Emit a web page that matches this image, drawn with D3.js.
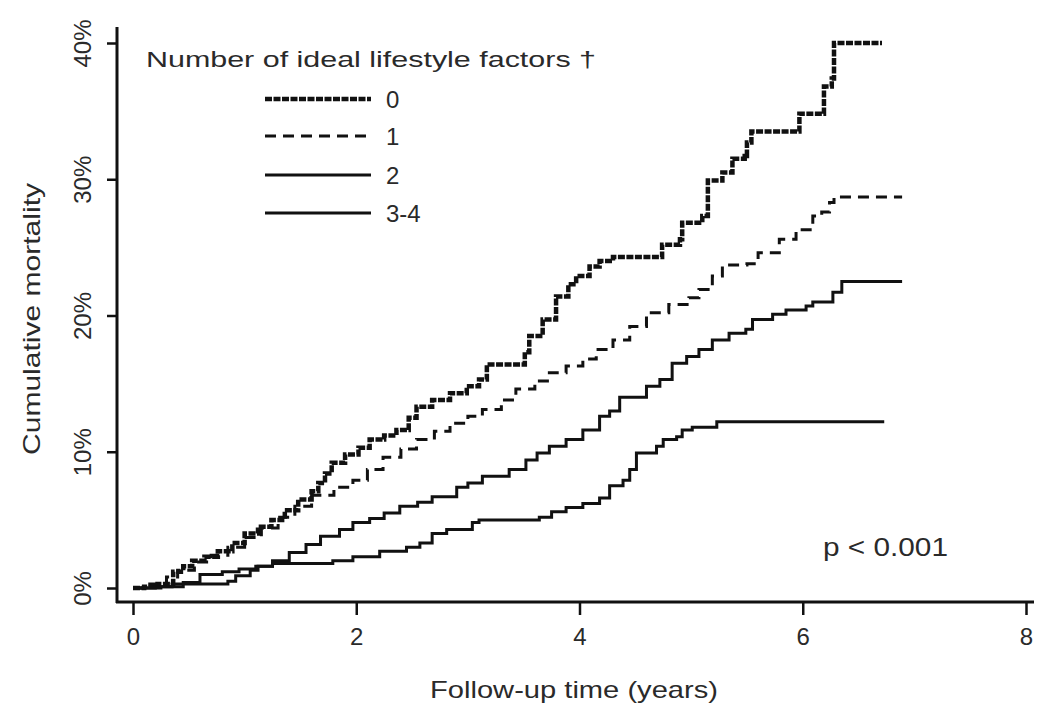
<!DOCTYPE html>
<html>
<head>
<meta charset="utf-8">
<script src="https://cdn.jsdelivr.net/npm/d3@7"></script>
<style>
  body { margin: 0; background: #fff; }
  text { font-family: "Liberation Sans", Arial, sans-serif; fill: #2a2a2a; }
</style>
</head>
<body>
<div id="viz"></div>
<script>
// groups (number of ideal lifestyle factors)
const groups = ['0', '1', '2', '3-4']

// follow-up time (years) and cumulative mortality (%)
const time0 = [0, 0.10, 0.22, 0.36, 0.45, 0.53, 0.64, 0.76, 0.89, 1.00, 1.12, 1.24, 1.36, 1.48, 1.60, 1.66, 1.72, 1.78, 1.90, 2.02, 2.12, 2.25, 2.36, 2.47, 2.54, 2.68, 2.84, 2.99, 3.10, 3.17, 3.40, 3.51, 3.55, 3.67, 3.79, 3.90, 3.97, 4.09, 4.18, 4.30, 4.70, 4.74, 4.90, 4.92, 5.10, 5.15, 5.28, 5.37, 5.48, 5.50, 5.54, 5.97, 6.19, 6.26, 6.28, 6.71]
const mort0 = [0, 0.1, 0.3, 1.2, 1.6, 2.0, 2.3, 2.7, 3.3, 4.0, 4.5, 5.0, 5.7, 6.5, 7.1, 7.7, 8.4, 9.2, 9.8, 10.3, 10.9, 11.2, 11.6, 12.5, 13.3, 13.8, 14.3, 14.8, 15.3, 16.4, 16.4, 17.3, 18.5, 19.7, 21.4, 22.3, 22.9, 23.6, 24.0, 24.3, 24.3, 25.2, 25.6, 26.8, 27.3, 29.9, 30.5, 31.5, 31.7, 32.7, 33.5, 34.8, 36.8, 37.4, 40.0, 40.0]

const time1 = [0, 0.15, 0.30, 0.40, 0.55, 0.70, 0.85, 1.00, 1.15, 1.30, 1.45, 1.60, 1.80, 1.97, 2.10, 2.24, 2.40, 2.54, 2.70, 2.84, 3.00, 3.13, 3.30, 3.43, 3.60, 3.73, 3.88, 4.03, 4.15, 4.30, 4.45, 4.60, 4.80, 4.98, 5.07, 5.19, 5.28, 5.50, 5.60, 5.79, 5.94, 6.09, 6.17, 6.24, 6.28, 6.89]
const mort1 = [0, 0.3, 0.8, 1.3, 1.9, 2.4, 3.0, 3.7, 4.4, 5.2, 6.0, 6.8, 7.4, 7.9, 8.7, 9.6, 10.2, 10.9, 11.5, 12.1, 12.6, 13.1, 13.8, 14.6, 15.2, 15.8, 16.3, 16.8, 17.5, 18.2, 19.2, 20.2, 20.8, 21.3, 21.9, 22.9, 23.7, 23.8, 24.6, 25.6, 26.3, 27.3, 27.6, 28.3, 28.7, 28.7]

const time2 = [0, 0.20, 0.35, 0.85, 0.92, 1.05, 1.12, 1.25, 1.40, 1.55, 1.68, 1.85, 1.97, 2.12, 2.25, 2.39, 2.55, 2.68, 2.90, 3.00, 3.13, 3.37, 3.52, 3.62, 3.73, 3.88, 4.03, 4.18, 4.27, 4.36, 4.60, 4.72, 4.83, 4.96, 5.07, 5.19, 5.34, 5.49, 5.55, 5.73, 5.85, 6.03, 6.09, 6.27, 6.35, 6.89]
const mort2 = [0, 0.1, 0.3, 0.5, 0.9, 1.3, 1.6, 2.0, 2.6, 3.2, 3.8, 4.3, 4.8, 5.1, 5.5, 6.0, 6.3, 6.7, 7.4, 7.7, 8.2, 8.7, 9.4, 9.9, 10.4, 10.9, 11.6, 12.6, 13.0, 14.0, 14.8, 15.3, 16.5, 17.0, 17.5, 18.2, 18.7, 19.0, 19.7, 20.1, 20.4, 20.7, 21.0, 21.7, 22.5, 22.5]

const time3 = [0, 0.25, 0.45, 0.60, 0.80, 0.95, 1.10, 1.25, 1.79, 1.97, 2.21, 2.45, 2.57, 2.68, 2.81, 3.04, 3.10, 3.64, 3.75, 3.88, 4.03, 4.18, 4.27, 4.39, 4.45, 4.51, 4.69, 4.75, 4.87, 4.92, 5.01, 5.23, 6.73]
const mort3 = [0, 0.1, 0.4, 1.0, 1.2, 1.4, 1.6, 1.8, 2.0, 2.3, 2.7, 3.0, 3.3, 4.0, 4.3, 4.8, 5.0, 5.2, 5.6, 5.9, 6.2, 6.6, 7.5, 7.9, 8.7, 9.9, 10.4, 10.9, 11.1, 11.6, 11.8, 12.2, 12.2]

const xTicks = [0, 2, 4, 6, 8]
const yTicks = [0, 10, 20, 30, 40]

const series = [
  { name: groups[0], t: time0, m: mort0, width: 4.5, dash: '7 1.5' },
  { name: groups[1], t: time1, m: mort1, width: 3, dash: '11 7' },
  { name: groups[2], t: time2, m: mort2, width: 3, dash: null },
  { name: groups[3], t: time3, m: mort3, width: 3, dash: null }
]

let width = 1050,
    height = 719;

let xScale = d3.scaleLinear()
                .domain([0, 8])
                .range([133, 1026])

let yScale = d3.scaleLinear()
                .domain([0, 40])
                .range([588, 43])

let svg = d3.select('#viz')
            .append('svg')
            .attr('width', width)
            .attr('height', height)
            .style('background', '#fff')

// axes
let xAxis = svg.append('g')
               .attr('transform', 'translate(0,602)')
               .call(d3.axisBottom(xScale).tickValues(xTicks).tickSize(13).tickPadding(13).tickFormat(d3.format('d')))
xAxis.select('.domain').remove()
xAxis.selectAll('.tick line').attr('stroke', '#111').attr('stroke-width', 2.5)
xAxis.selectAll('.tick text').style('font-size', '24px').attr('fill', '#2a2a2a')
xAxis.append('line')
     .attr('x1', 116).attr('x2', 1034)
     .attr('stroke', '#111').attr('stroke-width', 3)

let yAxis = svg.append('g')
               .attr('transform', 'translate(117,0)')
               .call(d3.axisLeft(yScale).tickValues(yTicks).tickSize(10).tickFormat(d => d + '%'))
yAxis.select('.domain').remove()
yAxis.selectAll('.tick line').attr('stroke', '#111').attr('stroke-width', 2.5)
yAxis.selectAll('.tick text')
     .style('font-size', '24px')
     .attr('fill', '#2a2a2a')
     .attr('x', null).attr('dy', null)
     .attr('text-anchor', 'middle')
     .attr('transform', 'translate(-26,0) rotate(-90)')
yAxis.append('line')
     .attr('y1', 27).attr('y2', 603)
     .attr('stroke', '#111').attr('stroke-width', 3)

// axis titles
svg.append('text')
   .attr('x', 430).attr('y', 698)
   .attr('textLength', 288).attr('lengthAdjust', 'spacingAndGlyphs')
   .style('font-size', '24px')
   .text('Follow-up time (years)')

svg.append('text')
   .attr('transform', 'translate(40,455) rotate(-90)')
   .attr('textLength', 272).attr('lengthAdjust', 'spacingAndGlyphs')
   .style('font-size', '24px')
   .text('Cumulative mortality')

// curves
let line = d3.line()
             .x(d => xScale(d[0]))
             .y(d => yScale(d[1]))
             .curve(d3.curveStepAfter)

svg.selectAll('.km')
   .data(series)
   .enter()
     .append('path')
     .attr('class', 'km')
     .attr('fill', 'none')
     .attr('stroke', '#111')
     .attr('stroke-width', d => d.width)
     .attr('stroke-dasharray', d => d.dash)
     .attr('d', d => line(d.t.map((t, i) => [t, d.m[i]])))

// legend
svg.append('text')
   .attr('x', 146).attr('y', 67)
   .attr('textLength', 450).attr('lengthAdjust', 'spacingAndGlyphs')
   .style('font-size', '22px')
   .text('Number of ideal lifestyle factors †')

let legendY = [99, 136, 175, 213]
let legend = svg.selectAll('.leg')
                .data(series)
                .enter()
                  .append('g')
                  .attr('class', 'leg')
                  .attr('transform', (d, i) => 'translate(0,' + legendY[i] + ')')
legend.append('line')
      .attr('x1', 265).attr('x2', 371)
      .attr('stroke', '#111')
      .attr('stroke-width', d => d.width)
      .attr('stroke-dasharray', d => d.dash)
legend.append('text')
      .attr('x', 386).attr('y', 9)
      .style('font-size', '24px')
      .text(d => d.name)

svg.append('text')
   .attr('x', 823).attr('y', 556)
   .attr('textLength', 125).attr('lengthAdjust', 'spacingAndGlyphs')
   .style('font-size', '25px')
   .attr('fill', '#111')
   .text('p < 0.001')
</script>
</body>
</html>
